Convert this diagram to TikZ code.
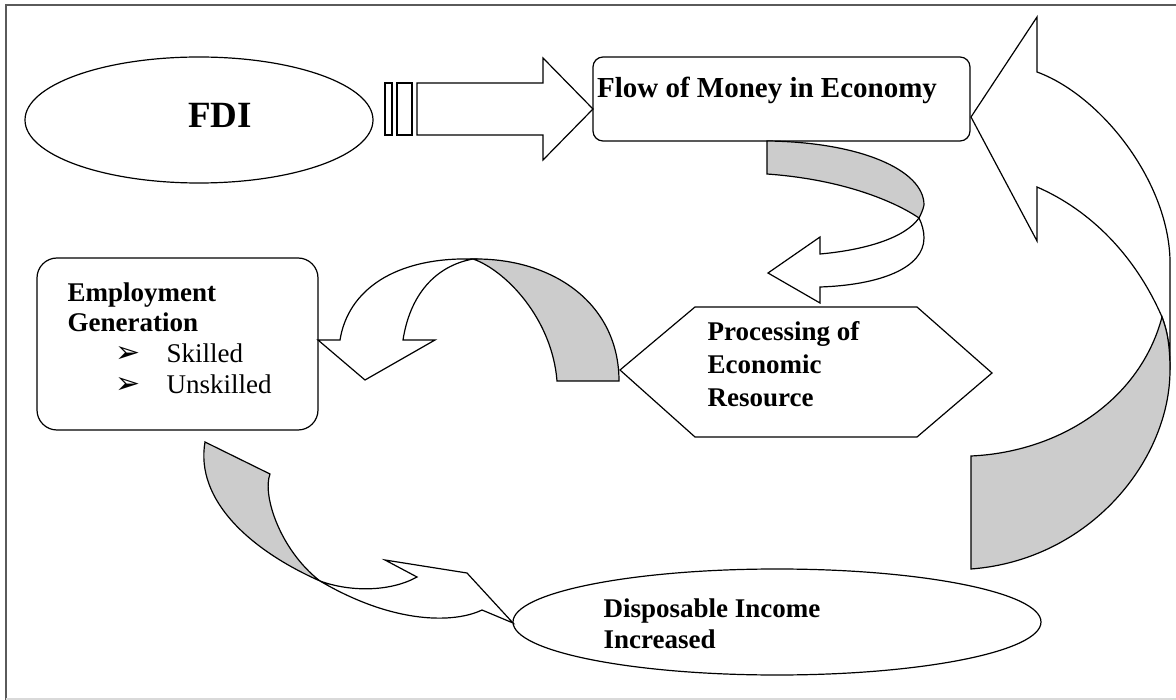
\documentclass[tikz,border=0pt]{standalone}
\usepackage{fontspec}
\setmainfont{Liberation Serif}
\newfontfamily\dejavu{DejaVu Sans}
\usetikzlibrary{shapes.geometric}
\definecolor{ribbon}{RGB}{204,204,204}
\definecolor{framecol}{RGB}{90,90,90}
\begin{document}
\begin{tikzpicture}[x=1pt,y=-1pt,line width=1.2pt,line join=miter,
  shp/.style={draw=black,fill=white},
  rib/.style={draw=black,fill=ribbon},
  lbl/.style={font=\fontsize{27}{31}\selectfont\bfseries,anchor=base west,inner sep=0pt},
  plain/.style={font=\fontsize{27}{31}\selectfont,anchor=base west,inner sep=0pt},
  bul/.style={font=\dejavu\fontsize{30}{34}\selectfont,anchor=base west,inner sep=0pt}]
\useasboundingbox (0,0) rectangle (1176,700);
% frame
\draw[framecol,line width=2pt] (6,700) -- (6,5) -- (1176,5);
\draw[black!15,line width=1.5pt] (6,699) -- (1176,699);

% FDI
\node[ellipse,draw,minimum width=348pt,minimum height=126pt,inner sep=0pt] (fdi) at (199,120) {};
\node[font=\fontsize{37}{40}\selectfont\bfseries,anchor=base,inner sep=0pt] (fditxt) at (220,128) {FDI};

% striped arrow
\draw[shp] (385,83) rectangle (392,135);
\draw[shp] (397,83) rectangle (412,135);
\draw[shp] (417,83) -- (543,83) -- (543,58) -- (593,109) -- (543,160) -- (543,135) -- (417,135) -- cycle;

% Flow box
\node[draw,rounded corners=10pt,minimum width=377pt,minimum height=84pt,inner sep=0pt] (flow) at (781.5,99) {};
\node[font=\fontsize{29}{33}\selectfont\bfseries,anchor=base,inner sep=0pt] (flowtxt) at (767,98) {Flow of Money in Economy};

% arrow flow -> processing
\draw[shp] (768,273) -- (820,237) -- (820,254) .. controls (865,250) and (905,238) .. (919,218)
  .. controls (922,224) and (924,231) .. (924,238) .. controls (924,268) and (880,285) .. (820,287)
  -- (820,303) -- cycle;
\draw[rib] (767,141) .. controls (860,142) and (924,170) .. (924,205)
  .. controls (923,210) and (921,214) .. (919,218)
  .. controls (900,205) and (850,180) .. (767,174) -- cycle;

% Processing hexagon
\draw[shp] (620,370) -- (695,307) -- (917,307) -- (992,373) -- (917,437) -- (695,437) -- cycle;
\node[lbl] (p1) at (707,341) {Processing of};
\node[lbl] (p2) at (707,374) {Economic};
\node[lbl] (p3) at (707,407) {Resource};

% arrow processing -> employment
\draw[shp] (473,259) .. controls (395,257) and (348,290) .. (340,340) -- (318,340) -- (365,380)
  -- (435,340) -- (403,340) .. controls (410,295) and (435,266) .. (473,259) -- cycle;
\draw[rib] (557,381) -- (619,381) .. controls (619,305) and (555,258) .. (473,259)
  .. controls (505,270) and (552,318) .. (557,381) -- cycle;

% Employment box
\node[draw,rounded corners=20pt,minimum width=281pt,minimum height=172pt,inner sep=0pt] (emp) at (177.5,344) {};
\node[lbl] (e1) at (67,302) {Employment};
\node[lbl] (e2) at (67,332) {Generation};
\node[bul] (b1) at (115,363) {➢};
\node[plain] (s1) at (166,363) {Skilled};
\node[bul] (b2) at (115,394) {➢};
\node[plain] (s2) at (166,394) {Unskilled};

% arrow employment -> disposable
\draw[shp] (320,581) .. controls (350,592) and (390,592) .. (417,577) -- (385,560) -- (467,573)
  -- (513,623) -- (482,610) .. controls (455,623) and (395,625) .. (320,581) -- cycle;
\draw[rib] (205,442) -- (270,474) .. controls (262,495) and (280,550) .. (320,581)
  .. controls (250,550) and (195,500) .. (205,442) -- cycle;

% Disposable ellipse
\node[ellipse,draw,minimum width=528pt,minimum height=106pt,inner sep=0pt] (disp) at (777,622) {};
\node[lbl] (d1) at (603,617) {Disposable Income};
\node[lbl] (d2) at (603,648) {Increased};

% big arrow disposable -> flow
\draw[shp] (971,117) -- (1037,17) -- (1037,72) .. controls (1100,95) and (1168,180) .. (1170,260)
  -- (1170,370) .. controls (1170,345) and (1167,330) .. (1162,317)
  .. controls (1135,255) and (1090,210) .. (1037,187) -- (1037,241) -- cycle;
\draw[rib] (971,456) .. controls (1060,452) and (1140,400) .. (1162,317)
  .. controls (1167,330) and (1170,345) .. (1170,370)
  .. controls (1170,460) and (1090,560) .. (971,569) -- cycle;
\end{tikzpicture}
\end{document}
